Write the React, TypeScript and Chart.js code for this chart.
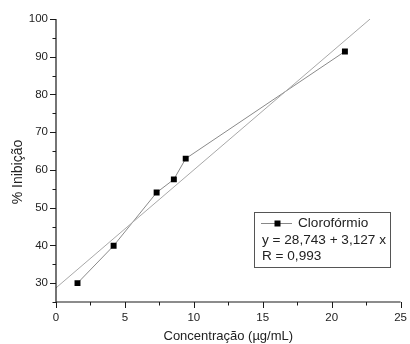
import React, { useEffect, useRef } from "react";
import { Chart, registerables } from "chart.js";

Chart.register(...registerables);

// Measured points: concentration (µg/mL) vs % inhibition
const concentration = [1.56, 4.18, 7.3, 8.55, 9.41, 20.96];
const inhibition = [30.0, 39.9, 54.0, 57.5, 63.0, 91.4];

// Linear regression reported in the legend
const fitIntercept = 28.743;
const fitSlope = 3.127;
const fitXRange = [0, 22.79];

const seriesName = "Clorofórmio";
const equationText = "y = 28,743 + 3,127 x";
const rText = "R = 0,993";
const xTitle = "Concentração (µg/mL)";
const yTitle = "% Inibição";

const FONT = "'Liberation Sans', Arial, sans-serif";

const axisPlugin = {
  id: "originAxes",
  afterDraw(chart: any) {
    const { ctx, chartArea, scales } = chart;
    const xs = scales.x;
    const ys = scales.y;
    ctx.save();
    ctx.strokeStyle = "#1a1a1a";
    ctx.lineWidth = 1.2;
    // axis lines
    ctx.beginPath();
    ctx.moveTo(chartArea.left, chartArea.top);
    ctx.lineTo(chartArea.left, chartArea.bottom);
    ctx.lineTo(chartArea.right, chartArea.bottom);
    ctx.stroke();
    // x ticks
    ctx.lineWidth = 1;
    for (let v = 0; v <= 25.001; v += 2.5) {
      const px = Math.round(xs.getPixelForValue(v)) + 0.5;
      const major = Math.abs(v % 5) < 1e-6;
      ctx.beginPath();
      ctx.moveTo(px, chartArea.bottom);
      ctx.lineTo(px, chartArea.bottom + (major ? 6 : 3.5));
      ctx.stroke();
    }
    // y ticks
    for (let v = 25; v <= 100.001; v += 5) {
      const py = Math.round(ys.getPixelForValue(v)) + 0.5;
      const major = v % 10 === 0;
      ctx.beginPath();
      ctx.moveTo(chartArea.left, py);
      ctx.lineTo(chartArea.left - (major ? 6 : 3.5), py);
      ctx.stroke();
    }
    // axis titles
    ctx.fillStyle = "#222";
    ctx.font = `13px ${FONT}`;
    ctx.textAlign = "center";
    ctx.textBaseline = "middle";
    ctx.fillText(xTitle, (chartArea.left + chartArea.right) / 2, 336);
    ctx.font = `14px ${FONT}`;
    ctx.translate(18, 172);
    ctx.rotate(-Math.PI / 2);
    ctx.fillText(yTitle, 0, 0);
    ctx.restore();

    // legend box
    ctx.save();
    const bx = 254.5, by = 212.5, bw = 136, bh = 55;
    ctx.fillStyle = "#fff";
    ctx.fillRect(bx, by, bw, bh);
    ctx.strokeStyle = "#555";
    ctx.lineWidth = 1;
    ctx.strokeRect(bx, by, bw, bh);
    ctx.strokeStyle = "#888";
    ctx.beginPath();
    ctx.moveTo(261, 223.5);
    ctx.lineTo(292, 223.5);
    ctx.stroke();
    ctx.fillStyle = "#000";
    ctx.fillRect(274.5, 220.5, 6, 6);
    ctx.fillStyle = "#222";
    ctx.font = `13.6px ${FONT}`;
    ctx.textAlign = "left";
    ctx.textBaseline = "middle";
    ctx.fillText(seriesName, 298, 223.5);
    ctx.fillText(equationText, 262, 240.5);
    ctx.fillText(rText, 262, 256);
    ctx.restore();
  },
};

export default function App() {
  const ref = useRef<HTMLCanvasElement>(null);
  useEffect(() => {
    const canvas = ref.current;
    if (!canvas) return;
    const fitData = fitXRange.map((x) => ({ x, y: fitIntercept + fitSlope * x }));
    const chart = new Chart(canvas, {
      type: "scatter",
      data: {
        datasets: [
          {
            label: "fit",
            data: fitData,
            showLine: true,
            borderColor: "#a8a8a8",
            borderWidth: 1,
            pointRadius: 0,
            fill: false,
          },
          {
            label: seriesName,
            data: concentration.map((x, i) => ({ x, y: inhibition[i] })),
            showLine: true,
            borderColor: "#8a8a8a",
            borderWidth: 1,
            pointStyle: "rect",
            pointRadius: 4.2,
            pointBackgroundColor: "#000",
            pointBorderColor: "#000",
            pointBorderWidth: 0,
            fill: false,
          },
        ],
      },
      options: {
        animation: false,
        responsive: false,
        maintainAspectRatio: false,
        layout: { padding: { top: 19, right: 7, left: 0, bottom: 0 } },
        plugins: { legend: { display: false }, tooltip: { enabled: false } },
        scales: {
          x: {
            type: "linear",
            min: 0,
            max: 25,
            afterFit: (s: any) => {
              s.height = 42;
            },
            border: { display: false },
            grid: { display: true, drawOnChartArea: false, drawTicks: true, tickLength: 6, color: "rgba(0,0,0,0)" },
            ticks: {
              stepSize: 2.5,
              autoSkip: false,
              maxRotation: 0,
              padding: 3,
              color: "#222",
              font: { family: FONT, size: 11.5 },
              callback: (v: any) => (Number(v) % 5 === 0 ? String(v) : ""),
            },
          },
          y: {
            type: "linear",
            min: 25,
            max: 100,
            afterFit: (s: any) => {
              s.width = 56;
            },
            border: { display: false },
            grid: { display: true, drawOnChartArea: false, drawTicks: true, tickLength: 6, color: "rgba(0,0,0,0)" },
            ticks: {
              stepSize: 5,
              autoSkip: false,
              padding: 2,
              color: "#222",
              font: { family: FONT, size: 11.5 },
              callback: (v: any) => (Number(v) % 10 === 0 ? String(v) : ""),
            },
          },
        },
      },
      plugins: [axisPlugin],
    });
    return () => chart.destroy();
  }, []);
  return (
    <div style={{ position: "fixed", left: 0, top: 0, width: 410, height: 344, background: "#fff" }}>
      <canvas ref={ref} width={410} height={344} style={{ width: 410, height: 344 }} />
    </div>
  );
}
